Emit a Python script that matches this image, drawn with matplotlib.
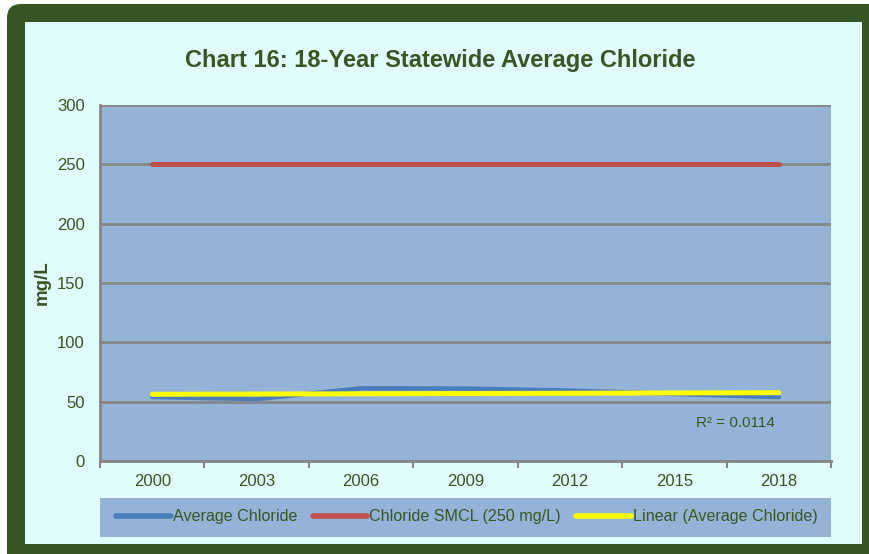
import numpy as np
import matplotlib
matplotlib.use("Agg")
import matplotlib.pyplot as plt
from matplotlib.patches import FancyBboxPatch, Rectangle
from matplotlib.lines import Line2D

plt.rcParams['font.family'] = ['Liberation Sans', 'DejaVu Sans']

# Data
years = ["2000", "2003", "2006", "2009", "2012", "2015", "2018"]
avg_chloride = [54.0, 52.2, 61.2, 61.0, 59.3, 56.5, 53.9]
smcl = [250, 250, 250, 250, 250, 250, 250]
y_ticks = [0, 50, 100, 150, 200, 250, 300]
r2_label = "R² = 0.0114"

title = "Chart 16: 18-Year Statewide Average Chloride"
y_label = "mg/L"
legend_labels = ["Average Chloride", "Chloride SMCL (250 mg/L)", "Linear (Average Chloride)"]

# Colours
dark_green = "#375623"
panel_bg = "#E0FCFD"
plot_bg = "#95B3D7"
grid_gray = "#868686"
blue = "#4A7EBB"
red = "#C0504D"
yellow = "#FFFF00"

W, H = 869, 554
fig = plt.figure(figsize=(W / 100, H / 100), dpi=100, facecolor="white")

# Framed panel (pixel coordinates, origin bottom-left)
outer = FancyBboxPatch((7, -40), 920, 590, boxstyle="round,pad=0,rounding_size=14",
                       transform=None, facecolor=dark_green, edgecolor="none", zorder=0)
fig.patches.append(outer)
inner = Rectangle((25, 10), 837, 522, transform=None, facecolor=panel_bg,
                  edgecolor="none", zorder=1)
fig.patches.append(inner)

# Plot area
ax_l, ax_r, ax_t, ax_b = 100, 831, 105, 461
ax = fig.add_axes([ax_l / W, 1 - ax_b / H, (ax_r - ax_l) / W, (ax_b - ax_t) / H])
ax.set_facecolor(plot_bg)
ax.set_zorder(2)

x = np.arange(len(years))
ax.set_xlim(-0.5, len(years) - 0.5)
ax.set_ylim(0, 300)

# Gridlines
ax.set_yticks(y_ticks)
ax.yaxis.grid(True, color=grid_gray, linewidth=2)
ax.set_axisbelow(True)

# Series
ax.plot(x, avg_chloride, color=blue, linewidth=3.3, solid_capstyle="round",
        solid_joinstyle="round", zorder=3)
ax.plot(x, smcl, color=red, linewidth=3.6, solid_capstyle="round", zorder=3)
coef = np.polyfit(x, avg_chloride, 1)
trend = np.polyval(coef, x)
ax.plot([x[0], x[-1]], [trend[0], trend[-1]], color=yellow, linewidth=3.6,
        solid_capstyle="round", zorder=4)

ax.text(0.869, 0.108, r2_label, transform=ax.transAxes, ha="center", va="center",
        fontsize=11, color=dark_green)

# Spines
for s in ["top", "right"]:
    ax.spines[s].set_visible(False)
for s in ["left", "bottom"]:
    ax.spines[s].set_color(grid_gray)
    ax.spines[s].set_linewidth(2)

# Y ticks
ax.tick_params(axis="y", length=0, pad=11, labelsize=12, labelcolor=dark_green)

# X ticks: marks at category boundaries, labels at centres
ax.set_xticks(np.arange(-0.5, len(years), 1.0))
ax.set_xticklabels([])
ax.tick_params(axis="x", which="major", length=5, width=1.5, color=grid_gray, direction="out")
ax.set_xticks(x, minor=True)
ax.set_xticklabels(years, minor=True)
ax.tick_params(axis="x", which="minor", length=0, pad=9, labelsize=12, labelcolor=dark_green)

# Title and axis label
fig.text(440 / W, 1 - 61 / H, title, ha="center", va="center", fontsize=17,
         fontweight="bold", color=dark_green)
fig.text(42 / W, 1 - 283 / H, y_label, ha="center", va="center", rotation=90,
         fontsize=13.5, fontweight="bold", color=dark_green)

# Legend band
leg_bg = Rectangle((100, H - 537), 731, 39, transform=None, facecolor=plot_bg,
                   edgecolor="none", zorder=1.5)
fig.patches.append(leg_bg)
handles = [Line2D([], [], color=blue, linewidth=4, solid_capstyle="round"),
           Line2D([], [], color=red, linewidth=4, solid_capstyle="round"),
           Line2D([], [], color=yellow, linewidth=4, solid_capstyle="round")]
leg = fig.legend(handles, legend_labels, loc="center", bbox_to_anchor=(467 / W, 1 - 517 / H),
                 ncol=3, frameon=False, fontsize=11.6, handlelength=3.4, handletextpad=0.12,
                 columnspacing=0.95, labelcolor=dark_green)
leg.set_zorder(3)

fig.savefig("out.png", dpi=100, facecolor="white")
